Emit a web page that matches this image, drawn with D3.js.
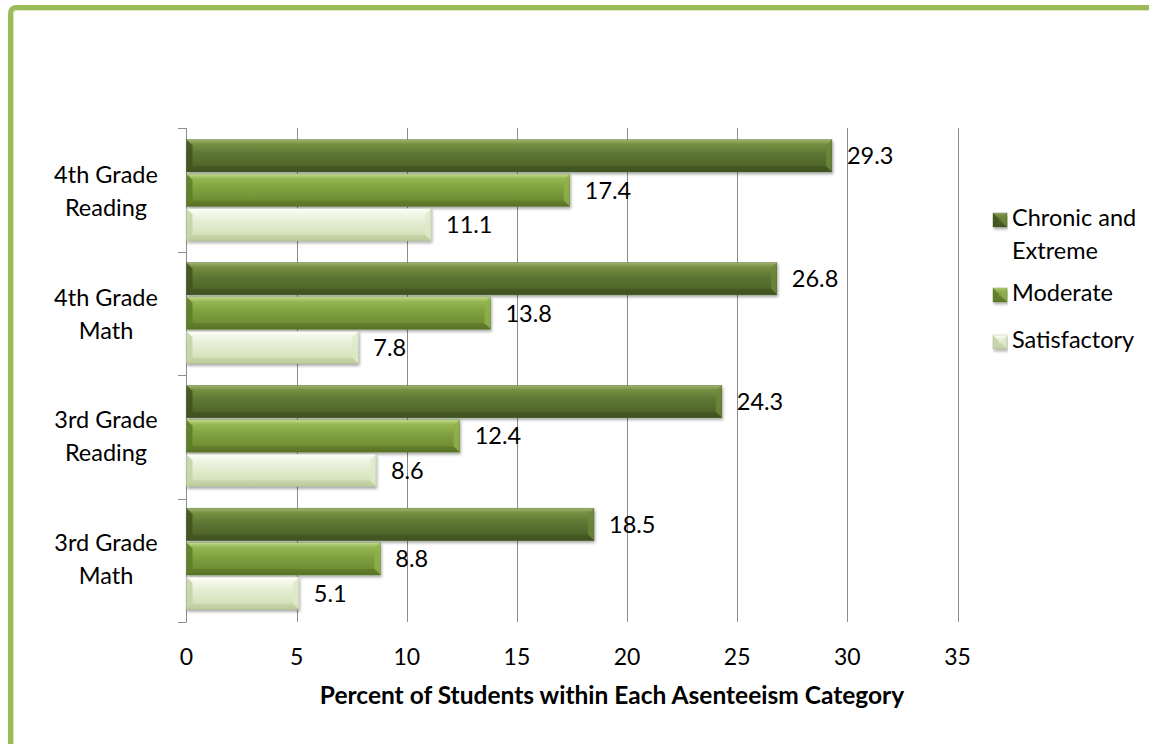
<!DOCTYPE html>
<html>
<head>
<meta charset="utf-8">
<script src="https://cdn.jsdelivr.net/npm/d3@7"></script>
<style>
html,body{margin:0;padding:0;background:#fff;}
svg{display:block;}
text{font-family:Lato,"Open Sans",sans-serif;}
</style>
</head>
<body>
<svg id="chart" width="1149" height="744"></svg>
<script>
// ---- data ----
const categories = ["4th Grade Reading", "4th Grade Math", "3rd Grade Reading", "3rd Grade Math"];
const seriesNames = ["Chronic and Extreme", "Moderate", "Satisfactory"];
const chronic = [29.3, 26.8, 24.3, 18.5];
const moderate = [17.4, 13.8, 12.4, 8.8];
const satisfactory = [11.1, 7.8, 8.6, 5.1];
const xTicks = [0, 5, 10, 15, 20, 25, 30, 35];
const xTitle = "Percent of Students within Each Asenteeism Category";

const seriesValues = [chronic, moderate, satisfactory];

// ---- styles ----
const palettes = [
  {top:"#a0b572", hi:"#778f42", mid:"#5d7633", low:"#4e6429", bot:"#3e5120", left:"#3f5420", right:"#6d8839", stroke:"#4a5f26"},
  {top:"#c3db8e", hi:"#96b754", mid:"#80a03f", low:"#6e8c33", bot:"#587126", left:"#5e7a2a", right:"#91b04e", stroke:"#617d2d"},
  {top:"#ffffff", hi:"#f4f8ea", mid:"#e3ecd1", low:"#d4e1ba", bot:"#bacb9b", left:"#c3d3a4", right:"#dee9c8", stroke:"#a9b893"}
];

const svg = d3.select("#chart");
const defs = svg.append("defs");

palettes.forEach((p, i) => {
  const g = defs.append("linearGradient").attr("id", "grad" + i)
    .attr("x1", 0).attr("y1", 0).attr("x2", 0).attr("y2", 1);
  [[0, p.top], [0.14, p.hi], [0.45, p.mid], [0.85, p.low], [1, p.bot]].forEach(s =>
    g.append("stop").attr("offset", s[0]).attr("stop-color", s[1]));
});
const sh = defs.append("filter").attr("id", "shadow")
  .attr("x", "-5%").attr("y", "-20%").attr("width", "110%").attr("height", "160%");
sh.append("feDropShadow").attr("dx", 1).attr("dy", 2).attr("stdDeviation", 1.5)
  .attr("flood-color", "#000").attr("flood-opacity", 0.35);

// ---- border ----
svg.append("path")
  .attr("d", "M10.5,760 L10.5,14 Q10.5,7.5 17,7.5 L1160,7.5")
  .attr("fill", "none").attr("stroke", "#9bbb59").attr("stroke-width", 5);
svg.append("path")
  .attr("d", "M13.5,760 L13.5,16 Q13.5,10.5 19,10.5 L1160,10.5")
  .attr("fill", "none").attr("stroke", "#d7e4bd").attr("stroke-width", 1);

// ---- scales ----
const x = d3.scaleLinear().domain([0, 35]).range([186.5, 957.5]);
const y = d3.scaleBand().domain(categories).range([128, 622])
  .paddingInner(0.16).paddingOuter(0.09);
const ySub = d3.scaleBand().domain(seriesNames).range([0, y.bandwidth()]).padding(0);

// ---- gridlines ----
svg.append("g").selectAll("line").data(xTicks.filter(t => t > 0)).join("line")
  .attr("x1", d => Math.round(x(d)) + 0.5).attr("x2", d => Math.round(x(d)) + 0.5)
  .attr("y1", 128).attr("y2", 622)
  .attr("stroke", "#8c8c8c").attr("stroke-width", 1);

// ---- left axis ----
const yBounds = d3.range(categories.length + 1).map(i => 128 + i * (494 / categories.length));
const ax = svg.append("g");
ax.append("line").attr("x1", 186.5).attr("x2", 186.5).attr("y1", 128).attr("y2", 622)
  .attr("stroke", "#8c8c8c");
ax.selectAll("line.tk").data(yBounds).join("line").attr("class", "tk")
  .attr("x1", 178).attr("x2", 186.5)
  .attr("y1", d => Math.round(d) + 0.5).attr("y2", d => Math.round(d) + 0.5)
  .attr("stroke", "#8c8c8c");

// ---- x tick labels ----
svg.append("g").selectAll("text").data(xTicks).join("text")
  .attr("x", d => x(d)).attr("y", 665)
  .attr("text-anchor", "middle").attr("font-size", 23).attr("fill", "#000")
  .text(d => d);

svg.append("text").attr("x", 612).attr("y", 704)
  .attr("text-anchor", "middle").attr("font-size", 24.5).attr("font-weight", "bold")
  .attr("fill", "#000").text(xTitle);

// ---- category labels ----
const catG = svg.append("g");
categories.forEach(c => {
  const words = c.split(" ");
  const lines = [words.slice(0, 2).join(" "), words.slice(2).join(" ")];
  const cy = y(c) + y.bandwidth() / 2;
  const t = catG.append("text").attr("text-anchor", "middle").attr("font-size", 23.5).attr("fill", "#000");
  lines.forEach((ln, i) => {
    t.append("tspan").attr("x", 106).attr("y", cy - 8 + i * 33).text(ln);
  });
});

// ---- bars ----
function drawBar(g, x0, x1, yt, h, p, i) {
  const w = x1 - x0;
  const b = Math.min(6, w / 2);
  const bg = g.append("g").attr("filter", "url(#shadow)");
  bg.append("rect").attr("x", x0).attr("y", yt).attr("width", w).attr("height", h)
    .attr("fill", "url(#grad" + i + ")");
  bg.append("path")
    .attr("d", `M${x0},${yt} L${x0 + b},${yt + b} L${x0 + b},${yt + h - b} L${x0},${yt + h} Z`)
    .attr("fill", p.left).attr("opacity", 0.85);
  bg.append("path")
    .attr("d", `M${x1},${yt} L${x1 - b},${yt + b} L${x1 - b},${yt + h - b} L${x1},${yt + h} Z`)
    .attr("fill", p.right).attr("opacity", 0.8);
  bg.append("path")
    .attr("d", `M${x0},${yt + h} L${x0 + b},${yt + h - b} L${x1 - b},${yt + h - b} L${x1},${yt + h} Z`)
    .attr("fill", p.bot).attr("opacity", 0.55);
  bg.append("rect").attr("x", x0).attr("y", yt).attr("width", w).attr("height", h)
    .attr("fill", "none").attr("stroke", p.stroke).attr("stroke-width", 0.6).attr("opacity", 0.6);
}

const barsG = svg.append("g");
const labelsG = svg.append("g");
seriesNames.forEach((s, si) => {
  seriesValues[si].forEach((v, ci) => {
    const c = categories[ci];
    const yt = y(c) + ySub(s) + 0.5;
    const h = ySub.bandwidth() - 2;
    drawBar(barsG, x(0), x(v), yt, h, palettes[si], si);
    labelsG.append("text")
      .attr("x", x(v) + 15).attr("y", yt + h / 2 + 8.5)
      .attr("font-size", 23.5).attr("fill", "#000")
      .text(d3.format(".1f")(v));
  });
});

// ---- legend ----
const legendItems = [
  {lines: ["Chronic and", "Extreme"], y: 226},
  {lines: ["Moderate"], y: 301},
  {lines: ["Satisfactory"], y: 348}
];
const lg = svg.append("g");
legendItems.forEach((it, i) => {
  drawBar(lg, 993, 1007, it.y - 13, 14, palettes[i], i);
  const t = lg.append("text").attr("font-size", 23.5).attr("fill", "#000");
  it.lines.forEach((ln, j) => t.append("tspan").attr("x", 1012).attr("y", it.y + j * 33).text(ln));
});
</script>
</body>
</html>
